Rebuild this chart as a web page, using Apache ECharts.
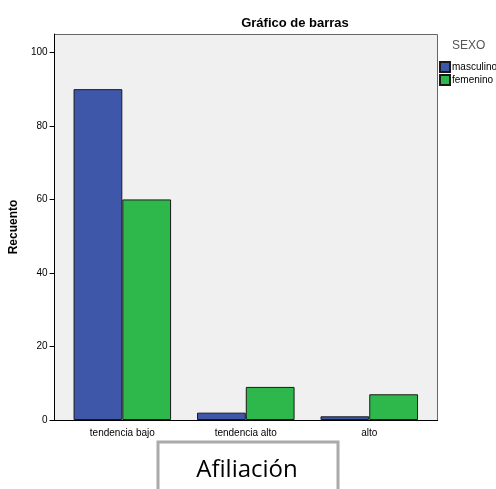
<!DOCTYPE html>
<html><head><meta charset="utf-8">
<script src="https://cdn.jsdelivr.net/npm/echarts@6/dist/echarts.min.js"></script>
<style>html,body{margin:0;padding:0;background:#fff}#c{width:496px;height:489px}</style>
</head><body><div id="c"></div>
<script>
const categories = ['tendencia bajo', 'tendencia alto', 'alto'];
const seriesNames = ['masculino', 'femenino'];
const masculino = [90, 2, 1];
const femenino = [60, 9, 7];
const yTicks = [0, 20, 40, 60, 80, 100];

const chart = echarts.init(document.getElementById('c'));
const F = '"Liberation Sans", Arial, sans-serif';
chart.setOption({
  animation: false,
  title: { text: 'Gráfico de barras', left: 290, top: 12, textAlign: 'center',
    textStyle: { fontFamily: F, fontSize: 13, fontWeight: 'bold', color: '#000' } },
  grid: { left: 60, right: 65, top: 34, bottom: 69, show: false },
  legend: { orient: 'vertical', left: 434, top: 56, itemWidth: 10, itemHeight: 10, itemGap: 1,
    icon: 'rect', data: seriesNames,
    textStyle: { fontFamily: F, fontSize: 10, lineHeight: 10, color: '#000', padding: [0, 0, 0, -3] } },
  xAxis: { type: 'category', data: categories,
    axisLine: { show: false },
    axisTick: { alignWithLabel: true, length: 5, lineStyle: { color: '#000' } },
    axisLabel: { fontFamily: F, fontSize: 10, color: '#000', margin: 8 } },
  yAxis: { type: 'value', min: 0, max: 105, offset: 6, name: 'Recuento', nameLocation: 'middle', nameGap: 34,
    nameTextStyle: { fontFamily: F, fontSize: 12, fontWeight: 'bold', color: '#000' },
    axisLine: { show: true, lineStyle: { color: '#000' } },
    axisTick: { show: true, length: 5, customValues: yTicks, lineStyle: { color: '#000' } },
    axisLabel: { fontFamily: F, fontSize: 10, color: '#000', margin: 7, customValues: yTicks },
    splitLine: { show: false } },
  series: [
    { name: seriesNames[0], type: 'bar', data: masculino, barGap: '0%', barCategoryGap: '21%',
      itemStyle: { color: '#3f57a9', borderColor: '#1a1a1a', borderWidth: 1 } },
    { name: seriesNames[1], type: 'bar', data: femenino,
      itemStyle: { color: '#2eb84b', borderColor: '#1a1a1a', borderWidth: 1 } }
  ],
  graphic: [
    { type: 'rect', z: -10, shape: { x: 54.5, y: 34.5, width: 383, height: 386 }, style: { fill: '#f0f0f0', stroke: '#666', lineWidth: 1 } },
    { type: 'line', z: 10, shape: { x1: 54, y1: 420.5, x2: 438, y2: 420.5 }, style: { stroke: '#000', lineWidth: 1 } },
    { type: 'text', left: 452, top: 40, style: { text: 'SEXO', fontFamily: F, fontSize: 12, fill: '#555' } },
    { type: 'rect', shape: { x: 158, y: 442, width: 180, height: 60 }, style: { fill: '#fff', stroke: '#aaa', lineWidth: 3 } },
    { type: 'text', x: 247, y: 470, style: { text: 'Afiliación', fontFamily: '"Open Sans", "Noto Sans", sans-serif', fontSize: 24, fill: '#000', align: 'center', verticalAlign: 'middle' } }
  ]
});
</script></body></html>
